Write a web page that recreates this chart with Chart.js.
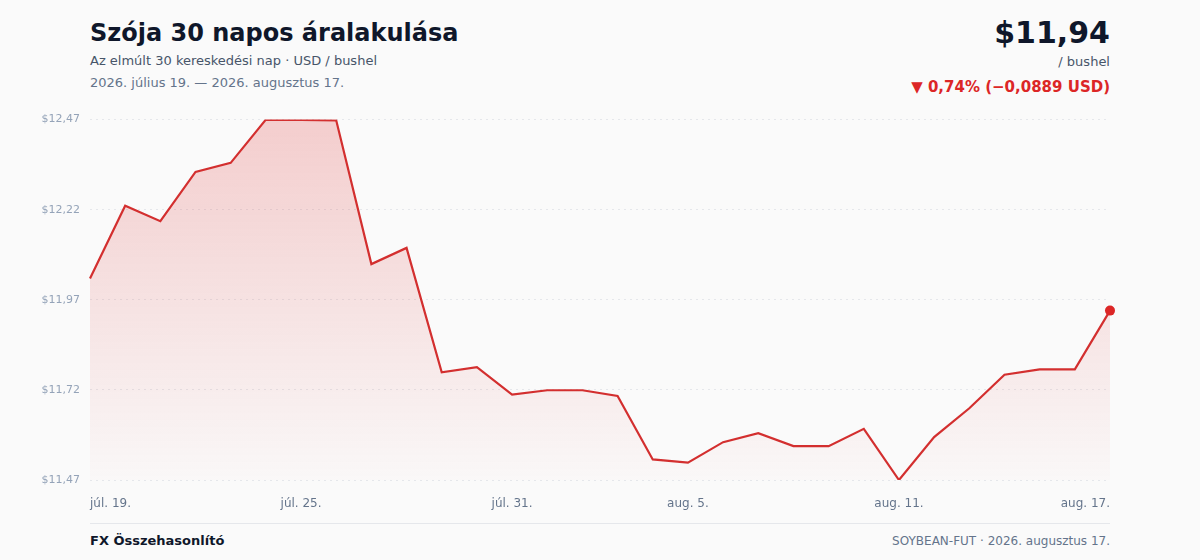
<!DOCTYPE html>
<html lang="hu">
<head>
<meta charset="utf-8">
<title>Szója 30 napos áralakulása</title>
<script src="https://cdn.jsdelivr.net/npm/chart.js@4.4.1/dist/chart.umd.min.js"></script>
<style>
  html, body { margin: 0; padding: 0; background: #fafafa; }
  body { width: 1200px; height: 560px; position: relative; overflow: hidden; font-family: "DejaVu Sans", sans-serif; }
  .t { position: absolute; white-space: nowrap; }
  #title { left: 90px; top: 18px; font-size: 24px; line-height: 30px; font-weight: bold; color: #0f172a; }
  #sub { left: 90px; top: 52px; font-size: 13px; line-height: 18px; color: #475569; }
  #range { left: 90px; top: 74px; font-size: 13px; line-height: 18px; color: #64748b; }
  #price { right: 90px; top: 15px; font-size: 30px; line-height: 36px; font-weight: bold; color: #0f172a; }
  #unit { right: 90px; top: 53px; font-size: 13px; line-height: 18px; color: #475569; }
  #chg { right: 90px; top: 78px; font-size: 15px; line-height: 18px; font-weight: bold; color: #dc2626; }
  #wrap { position: absolute; left: 0; top: 103px; width: 1200px; height: 407px; }
  #rule { position: absolute; left: 90px; top: 523px; width: 1020px; height: 1px; background: #e5e7eb; }
  #brand { left: 90px; top: 532px; font-size: 13px; line-height: 18px; font-weight: bold; color: #0f172a; }
  #src { right: 90px; top: 532px; font-size: 12px; line-height: 18px; color: #64748b; }
</style>
</head>
<body>
<div class="t" id="title">Szója 30 napos áralakulása</div>
<div class="t" id="sub">Az elmúlt 30 kereskedési nap · USD / bushel</div>
<div class="t" id="range">2026. július 19. — 2026. augusztus 17.</div>
<div class="t" id="price">$11,94</div>
<div class="t" id="unit">/ bushel</div>
<div class="t" id="chg">▼ 0,74% (−0,0889 USD)</div>
<div id="wrap"><canvas id="c"></canvas></div>
<div id="rule"></div>
<div class="t" id="brand">FX Összehasonlító</div>
<div class="t" id="src">SOYBEAN-FUT · 2026. augusztus 17.</div>
<script>
const categories = [
  "júl. 19.", "júl. 20.", "júl. 21.", "júl. 22.", "júl. 23.", "júl. 24.", "júl. 25.",
  "júl. 26.", "júl. 27.", "júl. 28.", "júl. 29.", "júl. 30.", "júl. 31.",
  "aug. 1.", "aug. 2.", "aug. 3.", "aug. 4.", "aug. 5.", "aug. 6.", "aug. 7.",
  "aug. 8.", "aug. 9.", "aug. 10.", "aug. 11.", "aug. 12.", "aug. 13.", "aug. 14.",
  "aug. 15.", "aug. 16.", "aug. 17."
];
const prices = [
  12.029, 12.231, 12.188, 12.325, 12.350, 12.470, 12.469, 12.468, 12.069, 12.114,
  11.769, 11.783, 11.707, 11.719, 11.719, 11.703, 11.527, 11.518, 11.575, 11.600,
  11.564, 11.564, 11.612, 11.470, 11.589, 11.669, 11.762, 11.777, 11.777, 11.940
];
const shownTickIndices = [0, 6, 12, 17, 23, 29];
const yTicks = [11.47, 11.72, 11.97, 12.22, 12.47];

const lineColor = "#d32f2f";
const ctx = document.getElementById("c").getContext("2d");

new Chart(ctx, {
  type: "line",
  data: {
    labels: categories,
    datasets: [{
      data: prices,
      borderColor: lineColor,
      borderWidth: 2.2,
      tension: 0,
      fill: "start",
      backgroundColor: (context) => {
        const area = context.chart.chartArea;
        if (!area) return "rgba(220,38,38,0.15)";
        const g = context.chart.ctx.createLinearGradient(0, area.top, 0, area.bottom);
        g.addColorStop(0, "rgba(220,38,38,0.21)");
        g.addColorStop(1, "rgba(220,38,38,0.01)");
        return g;
      },
      pointRadius: (c) => c.dataIndex === prices.length - 1 ? 5 : 0,
      pointHoverRadius: (c) => c.dataIndex === prices.length - 1 ? 5 : 0,
      pointBackgroundColor: "#dc2626",
      pointBorderColor: "#dc2626",
      pointBorderWidth: 0
    }]
  },
  options: {
    responsive: true,
    maintainAspectRatio: false,
    animation: false,
    layout: { padding: { left: 30, right: 90, top: 10, bottom: 0 } },
    plugins: { legend: { display: false }, tooltip: { enabled: false } },
    scales: {
      x: {
        offset: false,
        grid: { display: false, drawTicks: false },
        border: { display: false },
        afterFit: (s) => { s.height = 30; },
        ticks: {
          autoSkip: false,
          maxRotation: 0,
          align: "inner",
          padding: 17,
          color: "#64748b",
          font: { family: "DejaVu Sans", size: 12 },
          callback: (v, i) => shownTickIndices.includes(i) ? categories[i] : null
        }
      },
      y: {
        min: yTicks[0],
        max: yTicks[yTicks.length - 1],
        afterBuildTicks: (s) => { s.ticks = yTicks.map(v => ({ value: v })); },
        afterFit: (s) => { s.width = 60; },
        grid: { color: "#e5e7eb", lineWidth: 1, drawTicks: false },
        border: { display: false, dash: [2, 4] },
        ticks: {
          padding: 10,
          color: "#94a3b8",
          font: { family: "DejaVu Sans", size: 11 },
          callback: (v) => "$" + Number(v).toFixed(2).replace(".", ",")
        }
      }
    }
  }
});
</script>
</body>
</html>
